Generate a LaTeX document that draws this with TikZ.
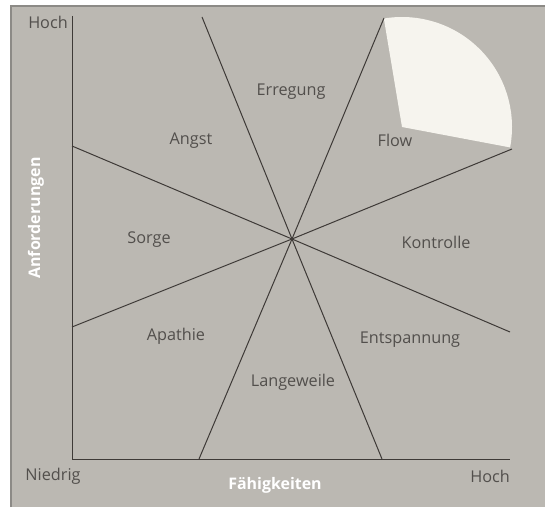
\documentclass[tikz,border=0pt]{standalone}
\usepackage{fontspec}
\setmainfont{Open Sans}
\definecolor{paper}{RGB}{187,184,178}
\definecolor{rim}{RGB}{140,138,134}
\definecolor{ink}{RGB}{62,58,55}
\definecolor{lbl}{RGB}{82,79,76}
\definecolor{flowwhite}{RGB}{246,244,238}
\tikzset{
	zone/.style={text=lbl, font=\fontsize{16.3}{19}\selectfont},
	axlbl/.style={text=white, font=\fontsize{16}{19}\selectfont\bfseries},
	line/.style={draw=ink, line width=1bp}
}
\begin{document}
\begin{tikzpicture}[x=1bp, y=-1bp]
	\useasboundingbox (0,0) rectangle (545,509) ;
	\fill[paper] (11,6) rectangle (545,507) ;
	\draw[rim, line width=1.5bp] (11,507) -- (11,6) -- (545,6) ;
	\fill[flowwhite] (402,127) -- ++(-99.5:110) arc (-99.5:10.7:110) -- cycle ;
		\coordinate (o) at (72,459) ;
		\coordinate (ytop) at (72,16) ;
		\coordinate (xend) at (510,459) ;
		\coordinate (m) at (292,239) ;
		\coordinate (l1) at (72,146) ;
		\coordinate (r1) at (510,332) ;
		\coordinate (l2) at (72,327) ;
		\coordinate (r2) at (512,149) ;
		\coordinate (t1) at (384,18) ;
		\coordinate (b1) at (199,459) ;
		\coordinate (t2) at (202,17) ;
		\coordinate (b2) at (382,459) ;
	\draw[line] (ytop) -- (o) -- (xend) ;
	\draw[line] (l1) -- (m) -- (r1) ;
	\draw[line] (l2) -- (m) -- (r2) ;
	\draw[line] (t1) -- (m) -- (b1) ;
	\draw[line] (t2) -- (m) -- (b2) ;
		\node (erregung)[zone] at (291,92) {Erregung} ;
		\node (angst)[zone] at (191,141) {Angst} ;
		\node (flow)[zone] at (395,140) {Flow} ;
		\node (sorge)[zone] at (149,240) {Sorge} ;
		\node (kontrolle)[zone] at (436,242) {Kontrolle} ;
		\node (apathie)[zone] at (176,336) {Apathie} ;
		\node (entsp)[zone] at (410,340) {Entspannung} ;
		\node (langew)[zone] at (293,382) {Langeweile} ;
		\node (hochy)[zone] at (48,22) {Hoch} ;
		\node (niedrig)[zone] at (53,476) {Niedrig} ;
		\node (hochx)[zone] at (490,476) {Hoch} ;
		\node (faeh)[axlbl] at (275,485) {Fähigkeiten} ;
		\node (anf)[axlbl, rotate=90] at (36,218) {Anforderungen} ;
\end{tikzpicture}
\end{document}
